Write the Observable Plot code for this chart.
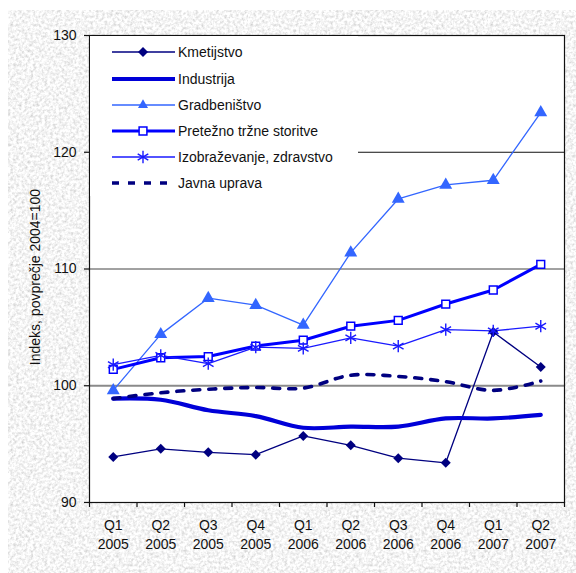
<!DOCTYPE html>
<html><head><meta charset="utf-8">
<script src="https://cdn.jsdelivr.net/npm/d3@7"></script>
<script src="https://cdn.jsdelivr.net/npm/@observablehq/plot@0.6"></script>
<style>
html,body{margin:0;padding:0;background:#fff;}
#wrap{position:relative;width:576px;height:573px;overflow:hidden;font-family:"Liberation Sans",Arial,sans-serif;}
#bg{position:absolute;left:8px;top:10px;right:0;bottom:0;background-color:#e4e4e4;
background-image:url("data:image/svg+xml,%3Csvg xmlns='http://www.w3.org/2000/svg' width='240' height='240'%3E%3Cfilter id='n'%3E%3CfeTurbulence type='fractalNoise' baseFrequency='0.35' numOctaves='3' stitchTiles='stitch'/%3E%3CfeColorMatrix values='0.7 0 0 0 0.56  0.7 0 0 0 0.56  0.7 0 0 0 0.56  0 0 0 0 1'/%3E%3C/filter%3E%3Crect width='100%25' height='100%25' filter='url(%23n)'/%3E%3C/svg%3E");}
#chart{position:absolute;left:0;top:0;}
#legend{position:absolute;left:90px;top:36px;width:268px;height:160px;background:#fff;}
</style></head>
<body><div id="wrap"><div id="bg"></div><div id="chart"></div><div id="legend"></div></div>
<script>
// ---- data ----
const quarters = ["Q1","Q2","Q3","Q4","Q1","Q2","Q3","Q4","Q1","Q2"];
const years = ["2005","2005","2005","2005","2006","2006","2006","2006","2007","2007"];
const kmetijstvo = [93.9, 94.6, 94.3, 94.1, 95.7, 94.9, 93.8, 93.4, 104.6, 101.6];
const industrija = [98.9, 98.8, 97.9, 97.4, 96.4, 96.5, 96.5, 97.2, 97.2, 97.5];
const gradbenistvo = [99.6, 104.4, 107.5, 106.9, 105.2, 111.4, 116.0, 117.2, 117.6, 123.4];
const storitve = [101.4, 102.4, 102.5, 103.4, 103.9, 105.1, 105.6, 107.0, 108.2, 110.4];
const izobrazevanje = [101.8, 102.6, 101.9, 103.3, 103.2, 104.1, 103.4, 104.8, 104.7, 105.1];
const javnaUprava = [98.9, 99.4, 99.7, 99.85, 99.8, 100.9, 100.8, 100.35, 99.6, 100.4];
const seriesNames = ["Kmetijstvo","Industrija","Gradbeništvo","Pretežno tržne storitve","Izobraževanje, zdravstvo","Javna uprava"];
const yTicks = [90, 100, 110, 120, 130];
const yLabel = "Indeks, povprečje 2004=100";

// ---- styles ----
const styles = [
  {color:"#000080", width:1.3, symbol:"diamond2", r:4.5, fill:"#000080", curve:"linear"},
  {color:"#0000d8", width:4.2, symbol:null, curve:"catmull-rom"},
  {color:"#3366ff", width:1.3, symbol:"triangle", r:4.8, fill:"#3366ff", curve:"linear"},
  {color:"#0000ff", width:3, symbol:"square", r:4.4, fill:"white", stroke:"#0000ff", curve:"linear"},
  {color:"#1a1aff", width:1.3, symbol:"asterisk", r:5.8, stroke:"#1a1aff", curve:"linear"},
  {color:"#000080", width:3.6, dash:"7,9", symbol:null, curve:"catmull-rom"}
];
const values = [kmetijstvo, industrija, gradbenistvo, storitve, izobrazevanje, javnaUprava];
const idx = quarters.map((_, i) => i);
const xBoundaries = [-0.5, ...idx.map(i => i + 0.5)];

const lineMarks = [];
const dotMarks = [];
values.forEach((vals, s) => {
  const st = styles[s];
  const rows = vals.map((v, i) => ({i, v, s: seriesNames[s]}));
  lineMarks.push(Plot.line(rows, {x:"i", y:"v", stroke: st.color, strokeWidth: st.width,
    strokeDasharray: st.dash, curve: st.curve}));
  if (st.symbol) {
    const isStroke = st.symbol === "asterisk";
    dotMarks.push(Plot.dot(rows, {x:"i", y:"v", symbol: st.symbol, r: st.r,
      fill: isStroke ? "none" : st.fill, stroke: st.stroke || "none",
      strokeWidth: isStroke ? 1.4 : 1.5}));
  }
});

const chart = Plot.plot({
  width: 576, height: 573,
  marginLeft: 89, marginRight: 12, marginTop: 35, marginBottom: 71,
  style: {background: "transparent", fontSize: "14px", fontFamily: '"Liberation Sans", Arial, sans-serif', color: "#111", overflow: "visible"},
  x: {type: "linear", domain: [-0.5, 9.5]},
  y: {domain: [90, 130]},
  marks: [
    Plot.frame({fill: "white", stroke: "none"}),
    Plot.ruleY([100], {stroke: "#8a8a8a", strokeWidth: 2}),
    Plot.ruleY([110], {stroke: "#444", strokeWidth: 1}),
    Plot.ruleY([120], {stroke: "#111", strokeWidth: 1}),
    ...lineMarks,
    ...dotMarks,
    Plot.frame({stroke: "#111", strokeWidth: 1.2}),
    Plot.axisY({ticks: yTicks, tickSize: 5, tickPadding: 8, label: null, stroke: "#111", strokeWidth: 1.2}),
    Plot.axisX({ticks: xBoundaries, tickSize: 5, tickFormat: () => "", label: null, strokeWidth: 1.2}),
    Plot.axisX({ticks: idx, tickSize: 0, tickPadding: 18, tickFormat: i => quarters[i], label: null}),
    Plot.axisX({ticks: idx, tickSize: 0, tickPadding: 37, tickFormat: i => years[i], label: null}),
    Plot.text([yLabel], {frameAnchor: "left", rotate: -90, dx: -54, dy: 8, textAnchor: "middle", lineAnchor: "middle", fill: "#111"})
  ]
});
document.getElementById("chart").appendChild(chart);

// ---- legend ----
const lg = d3.select("#legend").append("svg").attr("width", 268).attr("height", 160)
  .style("font-family", '"Liberation Sans", Arial, sans-serif').style("font-size", "14px");
const rowY = [16, 43, 69, 95, 121, 147];
const symMap = {diamond2: d3.symbolDiamond2, triangle: d3.symbolTriangle2, square: d3.symbolSquare, asterisk: d3.symbolAsterisk};
seriesNames.forEach((name, s) => {
  const st = styles[s];
  const g = lg.append("g").attr("transform", `translate(0,${rowY[s]})`);
  g.append("line").attr("x1", 22).attr("x2", 85).attr("y1", 0).attr("y2", 0)
    .attr("stroke", st.color).attr("stroke-width", st.width).attr("stroke-dasharray", st.dash || null);
  if (st.symbol) {
    const isStroke = st.symbol === "asterisk";
    g.append("path").attr("transform", "translate(53,0)")
      .attr("d", d3.symbol(symMap[st.symbol], Math.PI * st.r * st.r)())
      .attr("fill", isStroke ? "none" : st.fill).attr("stroke", st.stroke || "none")
      .attr("stroke-width", isStroke ? 1.4 : 1.5);
  }
  g.append("text").attr("x", 88).attr("y", 0).attr("dy", "0.35em").attr("fill", "#111").text(name);
});
</script></body></html>
